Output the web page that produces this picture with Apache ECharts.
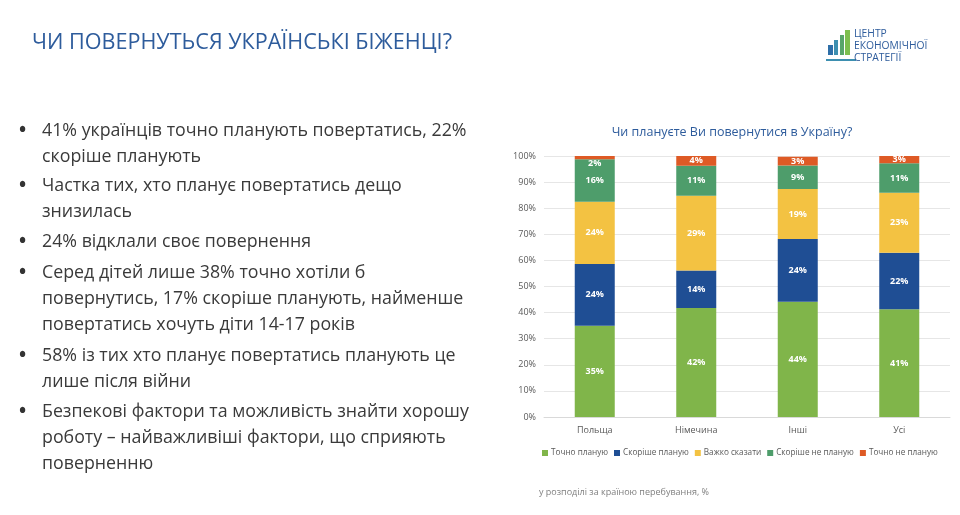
<!DOCTYPE html>
<html><head><meta charset="utf-8">
<script src="https://cdn.jsdelivr.net/npm/echarts@6/dist/echarts.min.js"></script>
<style>html,body{margin:0;padding:0;background:#fff}#c{width:960px;height:515px}</style>
</head><body><div id="c"></div>
<script>
var categories = ['Польща', 'Німечина', 'Інші', 'Усі'];
var seriesNames = ['Точно планую', 'Скоріше планую', 'Важко сказати', 'Скоріше не планую', 'Точно не планую'];
var definitelyYes = [35.0, 41.8, 44.2, 41.3];
var ratherYes = [23.6, 14.3, 24.0, 21.6];
var hardToSay = [23.9, 28.7, 19.2, 23.0];
var ratherNo = [16.3, 11.5, 9.0, 11.3];
var definitelyNo = [1.2, 3.7, 3.3, 2.8];
var labelsDefinitelyYes = ['35%', '42%', '44%', '41%'];
var labelsRatherYes = ['24%', '14%', '24%', '22%'];
var labelsHardToSay = ['24%', '29%', '19%', '23%'];
var labelsRatherNo = ['16%', '11%', '9%', '11%'];
var labelsDefinitelyNo = ['2%', '4%', '3%', '3%'];
var yTicks = [0, 10, 20, 30, 40, 50, 60, 70, 80, 90, 100];

var bullets = [
  ['41% українців точно планують повертатись, 22%', 'скоріше планують'],
  ['Частка тих, хто планує повертатись дещо', 'знизилась'],
  ['24% відклали своє повернення'],
  ['Серед дітей лише 38% точно хотіли б', 'повернутись, 17% скоріше планують, найменше', 'повертатись хочуть діти 14-17 років'],
  ['58% із тих хто планує повертатись планують це', 'лише після війни'],
  ['Безпекові фактори та можливість знайти хорошу', 'роботу – найважливіші фактори, що сприяють', 'поверненню']
];

var colors = ['#80B54A', '#1F4E94', '#F3C242', '#4E9D6B', '#DE5A25'];
var values = [definitelyYes, ratherYes, hardToSay, ratherNo, definitelyNo];
var labelSets = [labelsDefinitelyYes, labelsRatherYes, labelsHardToSay, labelsRatherNo, labelsDefinitelyNo];
var FONT = 'Open Sans';

var series = seriesNames.map(function (n, i) {
  return {
    name: n, type: 'bar', stack: 'total', barWidth: 40,
    itemStyle: { color: colors[i] },
    data: values[i].map(function (v, j) {
      var d = { value: v };
      if (i === 4 && v < 2) d.label = { offset: [0, 6] };
      return d;
    }),
    label: {
      show: true, position: 'inside', color: '#fff', fontSize: 9, fontFamily: FONT, fontWeight: 'bold',
      formatter: (function (k) { return function (p) { return labelSets[k][p.dataIndex]; }; })(i)
    }
  };
});

var graphics = [];
graphics.push({ type: 'text', x: 32, y: 43, style: { text: 'ЧИ ПОВЕРНУТЬСЯ УКРАЇНСЬКІ БІЖЕНЦІ?', fill: '#2E5C9C', font: '21.6px "Open Sans"', textVerticalAlign: 'middle' } });
var lineY = [131, 186, 242, 273, 356, 412];
var lh = 25.8;
bullets.forEach(function (b, i) {
  graphics.push({ type: 'text', x: 19, y: lineY[i], style: { text: '•', fill: '#333', font: 'bold 19px "Open Sans"', textVerticalAlign: 'middle' } });
  b.forEach(function (t, k) {
    graphics.push({ type: 'text', x: 42, y: lineY[i] + k * lh, style: { text: t, fill: '#3a3a3a', font: '17.8px "Open Sans"', textVerticalAlign: 'middle' } });
  });
});
graphics.push({ type: 'text', x: 539, y: 492, style: { text: 'у розподілі за країною перебування, %', fill: '#7f7f7f', font: '9px "Open Sans"', textVerticalAlign: 'middle' } });
// logo
var bars = [[828, 45, 5, 10, '#2E6FA8'], [834, 40, 4, 15, '#3D8FB0'], [840, 35, 4, 20, '#58A66A'], [845, 30, 5, 25, '#7DBF4E']];
bars.forEach(function (b) {
  graphics.push({ type: 'rect', shape: { x: b[0], y: b[1], width: b[2], height: b[3] }, style: { fill: b[4] } });
});
graphics.push({ type: 'rect', shape: { x: 826, y: 59, width: 30, height: 2 }, style: { fill: '#3D8FB0' } });
['ЦЕНТР', 'ЕКОНОМІЧНОЇ', 'СТРАТЕГІЇ'].forEach(function (t, i) {
  graphics.push({ type: 'text', x: 854, y: 34 + i * 12.2, style: { text: t, fill: '#2E5C9C', font: '10.3px "Open Sans"', textVerticalAlign: 'middle' } });
});

var chart = echarts.init(document.getElementById('c'), null, { renderer: 'canvas' });
chart.setOption({
  backgroundColor: '#fff',
  animation: false,
  title: { text: 'Чи плануєте Ви повернутися в Україну?', left: 727, textAlign: 'center', top: 121, textStyle: { color: '#2E5C9C', fontSize: 12.5, fontWeight: 'normal', fontFamily: FONT } },
  legend: {
    data: seriesNames, left: 542, width: 418, top: 449, itemWidth: 6, itemHeight: 6, itemGap: 6, icon: 'rect', padding: 0,
    textStyle: { color: '#595959', fontSize: 8.2, fontFamily: FONT, padding: [0, 0, 0, -2] }
  },
  grid: { left: 544, right: 10, top: 156, bottom: 98, containLabel: false },
  xAxis: {
    type: 'category', data: categories,
    axisLine: { lineStyle: { color: '#d9d9d9' } }, axisTick: { show: false },
    axisLabel: { color: '#595959', fontSize: 9, fontFamily: FONT, margin: 9 }
  },
  yAxis: {
    type: 'value', min: 0, max: 100, interval: 10,
    axisLabel: { color: '#595959', fontSize: 9, fontFamily: FONT, margin: 8, formatter: function (v) { return yTicks.indexOf(v) >= 0 ? v + '%' : ''; } },
    splitLine: { lineStyle: { color: '#e6e6e6' } },
    axisLine: { show: false }, axisTick: { show: false }
  },
  series: series,
  graphic: graphics
});
</script></body></html>
